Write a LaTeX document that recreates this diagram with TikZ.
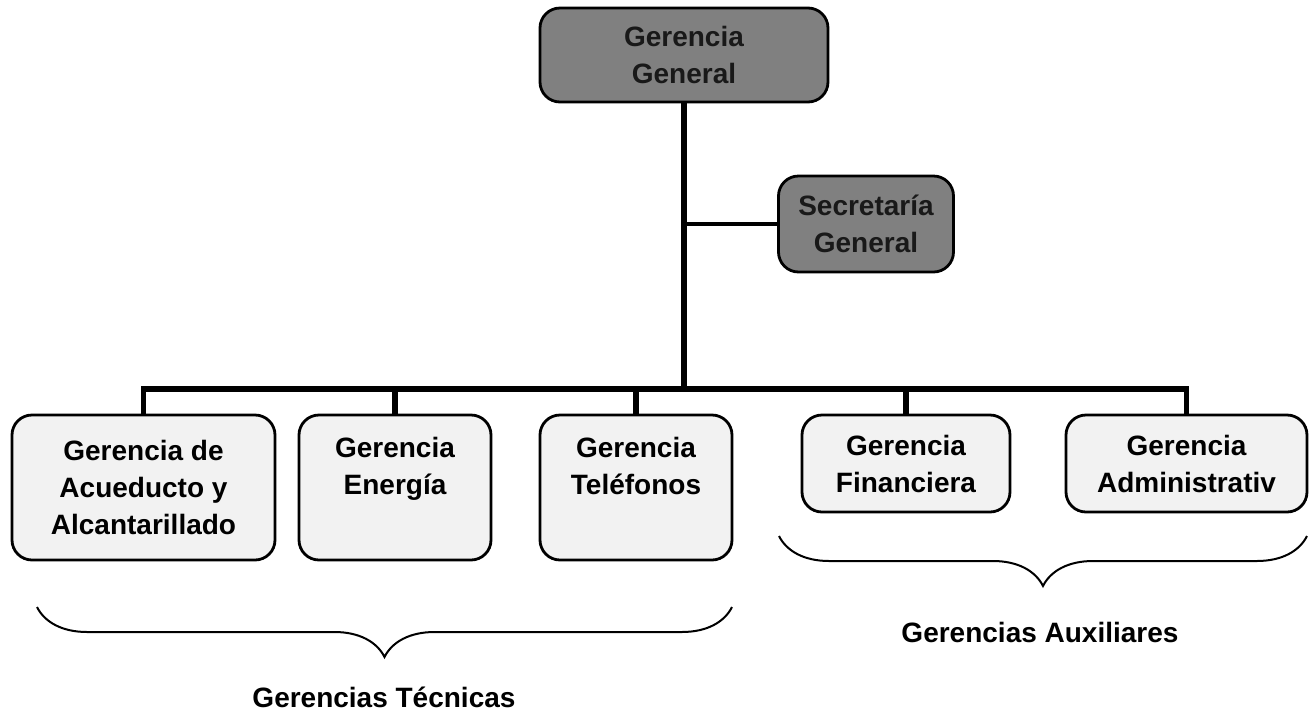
\documentclass[tikz,border=0pt]{standalone}
\usepackage{fontspec}
\setmainfont{Liberation Sans}
\usetikzlibrary{positioning,decorations.pathreplacing}
\definecolor{darkbox}{HTML}{808080}
\definecolor{lightbox}{HTML}{F2F2F2}
\tikzset{
  box/.style={draw, line width=1.4pt, rounded corners=10pt, align=center,
    font=\bfseries\fontsize{14}{18.5}\selectfont, inner sep=0pt},
  topbox/.style={box, fill=darkbox, text=black!90},
  lowbox/.style={box, fill=lightbox},
  trunk/.style={line width=2.6pt},
  branch/.style={line width=1.9pt},
  llave/.style={line width=1pt, decorate, decoration={brace, amplitude=25pt}},
  caption/.style={font=\bfseries\fontsize{14}{18.5}\selectfont}
}
\begin{document}
\begin{tikzpicture}[x=0.5pt,y=-0.5pt]
  \useasboundingbox (0,0) rectangle (1314,719);
  % direccion
  \node[topbox, minimum width=144pt, minimum height=47pt] (gg) at (684,55) {Gerencia\\General};
  \node[topbox, minimum width=87.5pt, minimum height=48pt] (sg) at (866,224) {Secretaría\\General};
  % gerencias
  \node[lowbox, minimum width=131.5pt, minimum height=72.5pt] (acu) at (143.5,487.5) {Gerencia de\\Acueducto y\\Alcantarillado};
  \node[lowbox, minimum width=96pt, minimum height=72.5pt] (ener) at (395,487.5) {Gerencia\\Energía\\\phantom{y}};
  \node[lowbox, minimum width=96pt, minimum height=72.5pt] (tel) at (636,487.5) {Gerencia\\Teléfonos\\\phantom{y}};
  \node[lowbox, minimum width=104pt, minimum height=48.5pt] (fin) at (906,463.5) {Gerencia\\Financiera};
  \node[lowbox, minimum width=120.5pt, minimum height=48.5pt] (adm) at (1186.5,463.5) {Gerencia\\Administrativ};
  % lineas
  \coordinate (bar) at (684,389);
  \draw[trunk] (gg.south) -- (bar);
  \draw[branch] (sg.west) -- (sg.west -| gg.south);
  \draw[trunk] (acu.north) -- (acu.north |- bar) -| (adm.north);
  \foreach \n in {ener,tel,fin}
    \draw[trunk] (\n.north) -- (\n.north |- bar);
  % llaves
  \coordinate (tecR) at (732,607);
  \coordinate (tecL) at (37,607);
  \coordinate (auxR) at (1307,536);
  \coordinate (auxL) at (779,536);
  \draw[llave] (tecR) -- (tecL);
  \draw[llave] (auxR) -- (auxL);
  \node[caption] (tec) at (384,697) {Gerencias Técnicas};
  \node[caption] (aux) at (1040,632) {Gerencias Auxiliares};
\end{tikzpicture}
\end{document}
